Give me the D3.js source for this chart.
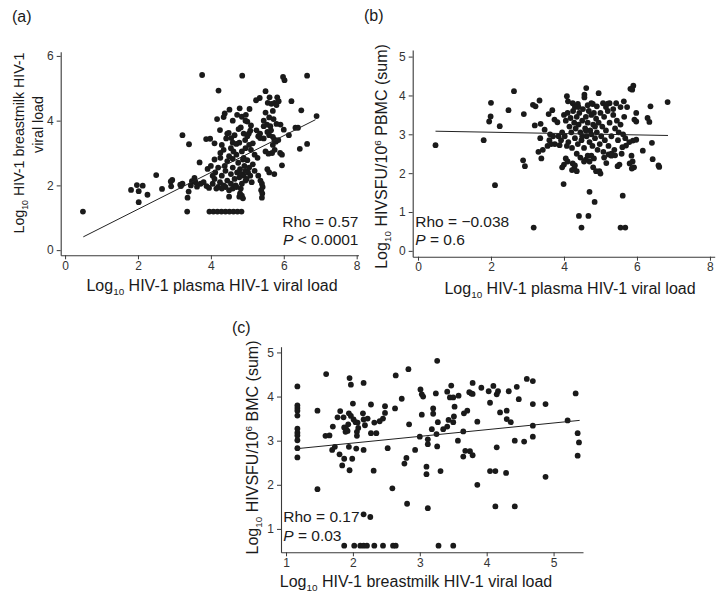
<!DOCTYPE html>
<html><head><meta charset="utf-8">
<script src="https://cdn.jsdelivr.net/npm/d3@7"></script>
<style>
body{margin:0;background:#fff}
svg{display:block}
text{font-family:"Liberation Sans",Arial,Helvetica,sans-serif}
</style>
</head><body>
<svg id="chart" width="725" height="601"></svg>
<script>
// ---------- DATA ----------
const ticksAX = [0, 2, 4, 6, 8];
const ticksAY = [0, 2, 4, 6];
const ticksBX = [0, 2, 4, 6, 8];
const ticksBY = [0, 1, 2, 3, 4, 5];
const ticksCX = [1, 2, 3, 4, 5];
const ticksCY = [1, 2, 3, 4, 5];

// (a) plasma VL (x) vs breastmilk VL (y)
const pointsA = [
[0.49,1.19],[1.81,1.86],[1.97,2.01],[2.13,1.99],[2.02,1.82],[2.02,1.48],[2.26,1.71],[2.50,2.32],[2.66,1.89],[2.91,1.97],[2.94,2.17],[2.90,2.12],
[3.22,3.55],[3.40,3.27],[3.18,1.98],[3.22,2.05],[3.16,2.02],[3.39,1.81],[3.36,1.62],[3.35,1.19],[3.55,2.23],[3.48,2.13],[3.69,2.71],[3.76,5.41],[3.87,3.43],[3.91,2.51],
[3.62,1.96],[3.72,2.05],[3.80,2.10],[3.88,1.98],[3.95,1.92],[3.45,2.00],[3.58,2.10],
[3.96,1.19],[4.07,1.19],[4.18,1.19],[4.29,1.19],[4.40,1.19],[4.51,1.19],[4.62,1.19],[4.73,1.19],[4.84,1.19],
[4.86,5.39],[5.98,5.35],[6.02,5.25],[6.64,5.39],[4.21,4.93],[5.50,4.91],[5.34,4.70],[5.24,4.63],[5.61,4.72],[5.82,4.72],[5.86,4.60],[5.56,4.55],[5.66,4.52],[5.75,4.55],[5.80,4.48],[6.21,4.60],[6.48,4.32],[6.90,4.14],
[4.51,4.34],[4.79,4.38],[5.06,4.36],[4.38,4.22],[4.35,4.11],[4.17,4.05],[4.72,4.18],[4.85,4.12],[4.96,4.18],[5.00,3.97],[4.82,3.79],[4.76,3.74],[4.25,3.71],[3.98,3.44],[4.49,3.62],[4.56,3.46],[4.60,3.32],[4.70,3.28],[4.78,3.32],[4.35,3.10],[4.26,3.00],
[4.94,3.40],[5.00,3.52],[5.04,3.60],[5.08,3.69],[5.45,3.83],[5.54,3.88],[5.63,3.83],[5.30,3.52],[5.35,3.46],[5.45,3.45],[5.70,3.50],[5.74,3.42],[5.78,3.35],[5.91,3.88],[6.00,3.72],[6.32,3.78],[6.39,3.78],[6.14,3.55],[5.70,3.25],[5.75,3.10],[5.68,3.00],[5.50,3.05],[5.58,2.98],[5.90,3.00],[5.95,2.95],[6.44,3.13],[6.64,3.28],[5.95,2.62],[5.74,2.35],[5.55,2.50],[5.60,2.40],
[5.10,3.10],[5.20,2.95],[5.28,2.85],[4.90,2.85],[5.00,2.78],[4.50,2.90],[4.60,2.82],[4.26,2.85],[4.10,2.80],[4.00,2.60],
[5.30,2.30],[5.36,2.15],[5.40,2.05],[5.42,1.95],[5.38,1.85],[5.41,1.75],[5.40,1.62],
[4.90,2.30],[4.95,2.15],[4.85,2.05],[4.82,1.90],[4.40,1.95],[4.50,1.85],[4.60,1.90],[4.70,1.95],[4.30,1.90],[4.20,1.95],[4.80,1.75],[4.85,1.68],[4.88,1.60],[4.50,1.65],[4.78,1.65],
[4.05,2.05],[4.10,2.20],[4.15,1.90],[4.25,2.10],[4.30,2.30],[4.35,2.00],[4.40,2.45],[4.45,2.15],[4.55,2.05],[4.55,2.35],[4.60,2.55],[4.65,2.20],[4.68,2.00],[4.72,2.40],[4.75,2.70],[4.78,2.25],[4.80,2.50],[4.85,2.35],[4.88,2.80],[4.92,2.60],[4.95,2.45],[4.98,2.20],[5.02,2.40],[5.05,2.55],[5.08,2.30],[5.12,2.10],[5.15,2.65],[5.20,2.45],
[4.62,3.05],[4.70,2.95],[4.45,2.75],[4.38,2.60],[4.20,2.55],[4.12,2.40],[4.05,2.30],[4.55,3.15],[4.85,3.05],[4.95,3.15],[5.05,3.25],[4.45,3.60],[4.30,3.25],[4.65,3.55],[4.90,3.60],[5.15,3.30],[5.25,3.70],[5.35,3.60],[5.55,3.65],[5.60,3.55],[5.65,3.70],[5.85,3.40],[5.45,4.00],[5.60,4.10],[5.72,4.05],[5.80,3.90],[5.50,4.25],[5.70,4.30],[4.10,3.30],[4.42,3.45],[4.60,4.00],[4.95,4.00],[5.10,3.85]
];
const fitA = [[0.50,0.41],[6.87,4.03]];

// (b) plasma VL (x) vs PBMC HIV SFU (y)
const pointsB = [
[0.48,2.72],[1.80,2.85],[2.00,3.81],[1.99,3.46],[1.95,3.33],[2.24,3.21],[2.11,1.69],[2.48,3.62],[2.63,4.11],[2.90,3.52],[2.88,2.33],[2.93,2.18],[3.15,3.76],[3.22,3.72],[3.33,3.87],[3.17,0.60],[3.20,3.23],[3.36,3.27],[3.47,3.12],
[3.35,2.90],[3.42,2.60],[3.30,2.55],[3.38,2.38],[3.55,2.70],[3.60,2.85],
[3.58,3.52],[3.68,3.62],[3.74,3.38],[3.82,3.31],[3.62,3.00],[3.70,2.95],[3.75,2.75],[3.85,2.95],[3.88,2.72],[3.65,2.75],
[4.61,4.19],[4.56,4.02],[4.56,3.95],[4.08,3.98],[4.95,4.06],[4.11,3.85],[5.90,4.25],[5.87,4.15],[5.82,4.17],[6.84,3.83],[6.37,3.72],[5.64,3.85],[5.73,3.70],
[5.43,3.80],[5.25,3.80],[5.20,3.79],[5.07,3.80],[4.79,3.78],[4.75,3.80],[4.38,3.78],[4.24,3.80],
[5.98,3.55],[5.93,3.38],[5.98,3.33],[6.29,3.42],[6.34,3.32],[6.41,2.78],[6.16,2.58],[6.43,2.36],[6.59,2.20],[6.61,2.16],
[5.98,2.86],[5.89,2.84],[5.79,2.80],[5.70,2.71],[5.60,2.67],[5.85,2.45],[5.88,2.30],[5.92,2.15],[5.80,2.25],[5.86,2.12],
[5.52,2.22],[5.47,2.18],[5.30,2.45],[5.22,2.48],[5.40,2.46],[5.16,2.26],[4.97,2.05],[5.00,1.99],
[4.75,2.45],[4.70,2.30],[4.82,2.38],[4.60,2.35],[4.24,2.25],[4.28,2.12],[4.22,2.08],[4.35,2.05],[4.30,2.20],
[4.05,2.38],[4.00,2.22],[4.10,2.30],[3.95,2.15],
[3.99,1.72],[4.70,1.52],[4.84,1.26],[5.61,1.42],[4.41,0.90],[4.67,0.90],[4.48,0.60],[5.55,0.60],[5.68,0.60],
[4.00,3.50],[4.05,3.35],[4.10,3.55],[4.15,3.20],[4.18,3.42],[4.20,3.05],[4.25,3.60],[4.28,3.30],[4.30,2.90],[4.32,3.15],[4.35,3.45],[4.38,2.75],[4.40,3.25],[4.42,3.55],[4.45,3.05],[4.48,2.85],[4.50,3.35],[4.52,3.65],[4.55,2.65],[4.58,3.15],[4.60,3.45],[4.62,2.95],[4.65,3.30],[4.68,3.60],[4.70,2.80],[4.72,3.10],[4.75,3.50],[4.78,2.70],[4.80,3.25],[4.82,3.55],[4.85,2.90],[4.88,3.40],[4.90,3.05],[4.92,2.60],[4.95,3.30],[4.98,2.75],[5.00,3.55],[5.02,2.95],[5.05,3.20],[5.08,2.55],[5.10,3.45],[5.12,2.85],[5.15,3.10],[5.20,3.60],[5.22,2.70],[5.25,3.30],[5.30,2.95],[5.35,3.50],[5.38,2.60],[5.40,3.15],[5.45,3.35],[5.48,2.85],[5.50,3.05],[5.55,3.25],[5.58,2.50],[5.62,3.00],[5.65,3.45],[5.68,2.90],
[4.12,2.80],[4.22,2.65],[4.35,2.50],[4.45,2.40],[4.55,2.30],[4.65,2.45],[4.80,2.15],[4.88,2.05],[5.10,2.40],[5.30,2.50],[3.95,3.05],[3.92,2.85],[4.02,2.95],[4.08,2.70],[4.40,3.70],[4.65,3.75],[4.90,3.72],[5.15,3.70],[5.35,3.65],[5.55,3.70],[4.30,3.70],[4.85,3.20],[4.75,3.00],[4.60,3.10],[4.50,2.95]
];
const fitB = [[0.48,3.08],[6.85,2.97]];

// (c) breastmilk VL (x) vs BMC HIV SFU (y)
const pointsC = [
[1.17,4.23],[1.17,3.80],[1.17,3.74],[1.17,3.68],[1.17,3.57],[1.17,3.27],[1.17,3.18],[1.17,3.12],[1.17,3.01],[1.17,2.83],[1.17,2.62],
[1.47,1.90],[1.47,3.68],[1.60,4.51],[1.59,3.11],[1.65,3.12],[1.70,3.32],[1.69,2.79],[1.73,2.86],[1.77,3.53],[1.81,3.67],[1.80,2.69],[1.84,2.44],[1.86,3.53],[1.87,2.59],[1.87,3.30],[1.89,3.20],[1.90,3.26],[1.92,3.22],[1.93,3.37],[1.95,4.42],[1.97,4.27],[1.94,3.62],[1.97,3.56],[2.00,3.84],[1.94,2.86],[1.95,2.33],[1.99,2.59],[2.01,3.48],[2.04,3.42],[2.07,3.41],[2.06,3.20],[2.06,3.11],[2.05,2.82],[2.08,3.29],[2.15,3.62],[2.16,3.48],[2.16,4.31],[2.16,2.79],[2.18,3.35],[2.22,3.50],[2.27,3.82],[2.27,3.17],[2.35,3.17],[2.31,2.32],[2.32,3.41],[2.40,3.44],[2.45,3.50],[2.48,3.78],[2.48,3.63],[2.52,2.83],[2.59,1.92],[2.63,3.73],[2.64,4.48],[2.73,3.95],[2.77,2.48],[2.80,2.61],[2.81,1.57],[2.83,4.62],[2.84,3.37],[2.93,2.79],[3.00,3.09],[3.01,4.16],[3.03,4.05],[3.05,4.00],[3.03,3.59],[3.10,2.41],[3.10,2.24],[3.12,1.47],[3.12,3.03],[3.12,2.92],[2.16,1.33],[2.26,1.27],
[1.87,0.62],[2.02,0.62],[2.11,0.62],[2.16,0.62],[2.21,0.62],[2.32,0.62],[2.45,0.62],[2.60,0.62],[2.64,0.62],[3.28,0.62],[3.50,0.62],
[3.26,4.81],[3.24,4.07],[3.20,3.73],[3.20,3.61],[3.27,3.42],[3.18,3.26],[3.25,3.15],[3.26,2.87],[3.31,2.31],[3.35,3.26],[3.41,3.32],[3.43,3.47],[3.50,3.42],[3.41,4.11],[3.47,4.25],[3.45,3.98],[3.50,3.98],[3.51,3.55],[3.52,3.77],[3.58,4.02],[3.57,3.00],[3.65,2.64],[3.68,2.77],[3.66,3.62],[3.65,3.21],[3.71,3.68],[3.74,4.10],[3.77,4.07],[3.79,4.31],[3.79,4.06],[3.75,2.76],[3.79,2.67],[3.86,3.43],[3.86,2.00],[3.92,4.20],[4.03,4.12],[4.05,3.86],[4.10,4.24],[4.15,4.05],[4.17,4.12],[4.05,2.31],[4.13,2.31],[4.13,1.51],[4.15,2.85],[4.20,3.64],[4.29,2.27],[4.30,3.68],[4.30,3.49],[4.36,3.42],[4.33,4.12],[4.42,3.00],[4.42,1.51],[4.45,4.22],[4.48,3.94],[4.56,2.98],[4.60,4.40],[4.69,4.35],[4.69,3.83],[4.69,3.34],[4.69,3.09],[4.88,3.83],[4.88,2.18],[5.21,3.46],[5.33,4.07],[5.36,3.17],[5.38,2.96],[5.36,2.66]
];
const fitC = [[1.17,2.82],[5.39,3.46]];

// ---------- DRAW ----------
const svg = d3.select("#chart");
const INK = "#1a1a1a";
const AX = "#3a3a3a";
const FS = 16;

function richText(sel, parts, size) {
  parts.forEach(p => {
    const t = sel.append("tspan").text(p.t);
    if (p.italic) t.attr("font-style", "italic");
    if (p.sub) t.attr("font-size", size * 0.62).attr("dy", size * 0.25);
    if (p.sup) t.attr("font-size", size * 0.62).attr("dy", -size * 0.38);
    if (p.after === "sub") t.attr("dy", -size * 0.25);
    if (p.after === "sup") t.attr("dy", size * 0.38);
  });
}

function panel(cfg) {
  const g = svg.append("g");
  const x = d3.scaleLinear().domain(cfg.xd).range(cfg.xr);
  const y = d3.scaleLinear().domain(cfg.yd).range(cfg.yr);

  const gx = g.append("g").attr("transform", `translate(0,${cfg.yr[0]})`)
    .call(d3.axisBottom(x).tickValues(cfg.xt).tickFormat(d3.format("d")).tickSize(4).tickSizeOuter(0).tickPadding(2));
  const gy = g.append("g").attr("transform", `translate(${cfg.xr[0]},0)`)
    .call(d3.axisLeft(y).tickValues(cfg.yt).tickFormat(d3.format("d")).tickSize(4).tickSizeOuter(0).tickPadding(3));
  [gx, gy].forEach(a => {
    a.select(".domain").attr("stroke", AX).attr("stroke-width", 1.1);
    a.selectAll(".tick line").attr("stroke", AX).attr("stroke-width", 1);
    a.selectAll(".tick text").attr("fill", "#333").attr("font-size", 12)
      .attr("font-family", '"Liberation Sans",Arial,sans-serif');
  });

  g.append("g").selectAll("circle").data(cfg.pts).join("circle")
    .attr("cx", d => x(d[0])).attr("cy", d => y(d[1])).attr("r", 2.9).attr("fill", INK);

  g.append("path").datum(cfg.fit)
    .attr("d", d3.line().x(d => x(d[0])).y(d => y(d[1])))
    .attr("stroke", "#222").attr("stroke-width", 1).attr("fill", "none");

  g.append("text").attr("x", cfg.tag[1]).attr("y", cfg.tag[2]).attr("font-size", 16)
    .attr("fill", INK).text(cfg.tag[0]);

  const xl = g.append("text").attr("x", cfg.xl.x).attr("y", cfg.xl.y)
    .attr("text-anchor", "middle").attr("font-size", FS).attr("fill", INK);
  richText(xl, cfg.xl.parts, FS);

  cfg.yl.forEach(l => {
    const fs = l.fs || FS;
    const t = g.append("text").attr("transform", `translate(${l.x},${l.y}) rotate(-90)`)
      .attr("text-anchor", "middle").attr("font-size", fs).attr("fill", INK);
    richText(t, l.parts, fs);
  });

  cfg.stats.forEach(s => {
    const t = g.append("text").attr("x", s.x).attr("y", s.y).attr("text-anchor", s.anchor)
      .attr("font-size", 15.5).attr("fill", INK);
    richText(t, s.parts, 15.5);
  });
}

const logSub = [{t: "Log"}, {t: "10", sub: true}];

panel({
  xd: [-0.12, 8.05], xr: [60.7, 358.5],
  yd: [-0.16, 6.13], yr: [255.3, 51.7],
  xt: ticksAX, yt: ticksAY, pts: pointsA, fit: fitA,
  tag: ["(a)", 12, 21.5],
  xl: {x: 212, y: 290.5, parts: [...logSub, {t: " HIV-1 plasma HIV-1 viral load", after: "sub"}]},
  yl: [
    {x: 24, y: 143, fs: 14.2, parts: [...logSub, {t: " HIV-1 breastmilk HIV-1", after: "sub"}]},
    {x: 43, y: 124.5, fs: 14.2, parts: [{t: "viral load"}]}
  ],
  stats: [
    {x: 358.5, y: 226.7, anchor: "end", parts: [{t: "Rho = 0.57"}]},
    {x: 358.5, y: 245, anchor: "end", parts: [{t: "P", italic: true}, {t: " < 0.0001"}]}
  ]
});

panel({
  xd: [-0.145, 8.13], xr: [412.7, 714.7],
  yd: [-0.15, 5.17], yr: [256.7, 50],
  xt: ticksBX, yt: ticksBY, pts: pointsB, fit: fitB,
  tag: ["(b)", 364, 21],
  xl: {x: 570, y: 293.5, parts: [...logSub, {t: " HIV-1 plasma HIV-1 viral load", after: "sub"}]},
  yl: [
    {x: 387, y: 156.5, parts: [...logSub, {t: " HIVSFU/10", after: "sub"}, {t: "6", sup: true}, {t: " PBMC (sum)", after: "sup"}]}
  ],
  stats: [
    {x: 415.3, y: 226.7, anchor: "start", parts: [{t: "Rho = \u22120.038"}]},
    {x: 415.3, y: 245, anchor: "start", parts: [{t: "P", italic: true}, {t: " = 0.6"}]}
  ]
});

panel({
  xd: [0.925, 5.44], xr: [281, 583],
  yd: [0.47, 5.13], yr: [552.3, 346.7],
  xt: ticksCX, yt: ticksCY, pts: pointsC, fit: fitC,
  tag: ["(c)", 232, 333],
  xl: {x: 416, y: 587, parts: [...logSub, {t: " HIV-1 breastmilk HIV-1 viral load", after: "sub"}]},
  yl: [
    {x: 258, y: 447.5, parts: [...logSub, {t: " HIVSFU/10", after: "sub"}, {t: "6", sup: true}, {t: " BMC (sum)", after: "sup"}]}
  ],
  stats: [
    {x: 283.3, y: 522.3, anchor: "start", parts: [{t: "Rho = 0.17"}]},
    {x: 283.3, y: 540.7, anchor: "start", parts: [{t: "P", italic: true}, {t: " = 0.03"}]}
  ]
});
</script>
</body></html>
